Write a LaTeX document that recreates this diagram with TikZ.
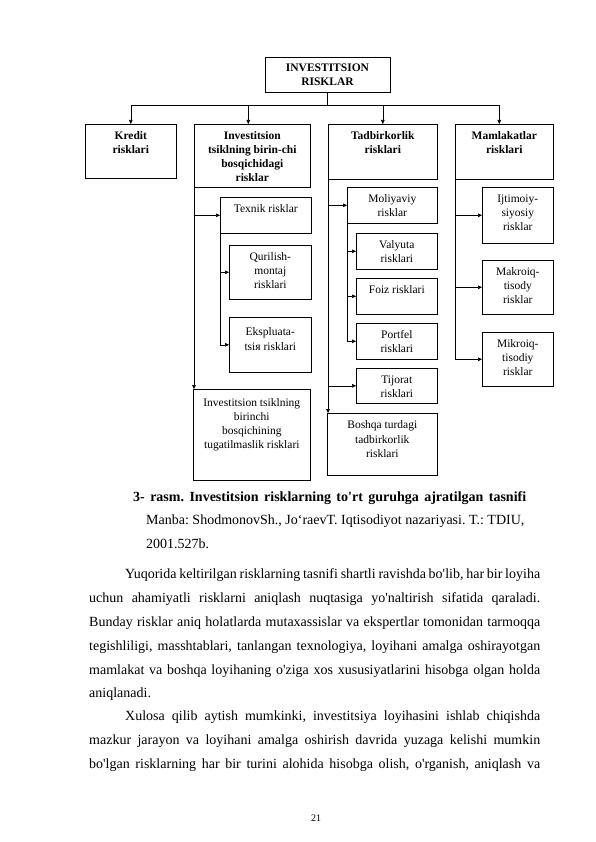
\documentclass[tikz,border=0pt]{standalone}
\usepackage{fontspec}
\setmainfont{Liberation Serif}
\usetikzlibrary{arrows.meta}

% top-aligned text inside a fixed box: width, height, text, first baseline
\newcommand{\cell}[4][15pt]{\parbox[c][#3][t]{#2}{\centering\rule{0pt}{#1}#4\par}}
\newcommand{\ap}{\textquotesingle}
\frenchspacing

\begin{document}
\begin{tikzpicture}[
  x=1pt,y=-1pt,
  box/.style={draw,line width=0.6pt,inner sep=0pt,anchor=north west,
              font=\fontsize{11.5}{14.2}\selectfont},
  head/.style={box,font=\fontsize{11.5}{14}\selectfont\bfseries},
  arr/.style={-{Triangle[length=4pt,width=3.6pt]},line width=0.6pt},
  txt/.style={inner sep=0pt,anchor=base west,font=\fontsize{14}{16}\selectfont}
]
\fill[white] (0,0) rectangle (596,842);
\useasboundingbox (0,0) rectangle (596,842);

% ---- root ----
\node[head,anchor=center,minimum width=125pt,minimum height=35pt,align=center]
  (top) at (327.5,74.5) {INVESTITSION\\RISKLAR};

% ---- four groups ----
\node[head] (kredit) at (85,124)  {\cell{91pt}{54pt}{Kredit\\risklari}};
\node[head] (inv1)   at (194,124) {\cell{116pt}{63pt}{Investitsion\\tsiklning birin-chi\\bosqichidagi\\risklar}};
\node[head] (tadb)   at (328,124) {\cell{109pt}{55pt}{Tadbirkorlik\\risklari}};
\node[head] (maml)   at (455,124) {\cell{98pt}{55pt}{Mamlakatlar\\risklari}};

\draw[line width=0.6pt] (top.south) -- ++(0,13) coordinate (bus);
\draw[arr] (bus) -| (kredit.north);
\draw[arr] (bus) -| ([xshift=-4pt]inv1.north);
\draw[arr] (bus) -| (tadb.north);
\draw[arr] (bus) -| ([xshift=-5pt]maml.north);

% ---- investment cycle ----
\node[box] (texnik)   at (220,197) {\cell{91pt}{36pt}{Texnik risklar}};
\node[box] (qurilish) at (229,245) {\cell{82pt}{54pt}{Qurilish-\\montaj\\risklari}};
\node[box] (ekspl)    at (229,317) {\cell[18.5pt]{82pt}{55pt}{Ekspluata-\\tsiя risklari}};
\node[box] (invend)   at (193,389) {\cell[17pt]{117pt}{91pt}{Investitsion tsiklning\\birinchi\\bosqichining\\tugatilmaslik risklari}};
\draw[arr] (inv1.south west) -- (inv1.south west |- invend.north);
\draw[arr] (inv1.south west |- texnik.west) -- (texnik.west);
\draw[arr] (texnik.south west) |- (ekspl.west);
\draw[arr] (texnik.south west |- qurilish.west) -- (qurilish.west);

% ---- business ----
\node[box] (moliya)  at (347,187) {\cell{90pt}{36pt}{Moliyaviy\\risklar}};
\node[box] (valyuta) at (356,233) {\cell{81pt}{36pt}{Valyuta\\risklari}};
\node[box] (foiz)    at (356,278) {\cell{81pt}{36pt}{Foiz risklari}};
\node[box] (portfel) at (356,323) {\cell{81pt}{36pt}{Portfel\\risklari}};
\node[box] (tijorat) at (356,368) {\cell{81pt}{35pt}{Tijorat\\risklari}};
\node[box] (boshqa)  at (327,413) {\cell[15.5pt]{110pt}{62pt}{Boshqa turdagi\\tadbirkorlik\\risklari}};
\draw[arr] (tadb.south west) -- (tadb.south west |- boshqa.north);
\draw[arr] (tadb.south west |- moliya.west) -- (moliya.west);
\draw[arr] (tadb.south west |- tijorat.west) -- (tijorat.west);
\draw[arr] (moliya.south west) |- (portfel.west);
\draw[arr] (moliya.south west |- valyuta.west) -- (valyuta.west);
\draw[arr] (moliya.south west |- foiz.west) -- (foiz.west);

% ---- country ----
\node[box] (ijtim) at (482,187) {\cell{71pt}{56pt}{Ijtimoiy-\\siyosiy\\risklar}};
\node[box] (makro) at (482,260) {\cell{71pt}{54pt}{Makroiq-\\tisody\\risklar}};
\node[box] (mikro) at (482,332) {\cell{71pt}{54pt}{Mikroiq-\\tisodiy\\risklar}};
\draw[arr] (maml.south west) |- (mikro.west);
\draw[arr] (maml.south west |- ijtim.west) -- (ijtim.west);
\draw[arr] (maml.south west |- makro.west) -- (makro.west);

% ---- caption and source ----
\node[txt,font=\fontsize{14}{16}\selectfont\bfseries] (capt) at (133,501)
  {\makebox[393pt][s]{3- rasm. Investitsion risklarning to\ap rt guruhga ajratilgan tasnifi}};
\node[txt] (src1) at (146,524) {Manba: ShodmonovSh., Jo‘raevT. Iqtisodiyot nazariyasi. T.: TDIU,};
\node[txt] (src2) at (146,548) {2001.527b.};

% ---- body text ----
\node[txt] (p1a) at (125,578) {\makebox[415pt][s]{Yuqorida keltirilgan risklarning tasnifi shartli ravishda bo\ap lib, har bir loyiha}};
\node[txt] (p1b) at (89,602)  {\makebox[451pt][s]{uchun ahamiyatli risklarni aniqlash nuqtasiga yo\ap naltirish sifatida qaraladi.}};
\node[txt] (p1c) at (89,626)  {\makebox[451pt][s]{Bunday risklar aniq holatlarda mutaxassislar va ekspertlar tomonidan tarmoqqa}};
\node[txt] (p1d) at (89,650)  {\makebox[451pt][s]{tegishliligi, masshtablari, tanlangan texnologiya, loyihani amalga oshirayotgan}};
\node[txt] (p1e) at (89,674)  {\makebox[451pt][s]{mamlakat va boshqa loyihaning o\ap ziga xos xususiyatlarini hisobga olgan holda}};
\node[txt] (p1f) at (89,697)  {aniqlanadi.};
\node[txt] (p2a) at (125,720) {\makebox[415pt][s]{Xulosa qilib aytish mumkinki, investitsiya loyihasini ishlab chiqishda}};
\node[txt] (p2b) at (89,744)  {\makebox[451pt][s]{mazkur jarayon va loyihani amalga oshirish davrida yuzaga kelishi mumkin}};
\node[txt] (p2c) at (89,768)  {\makebox[451pt][s]{bo\ap lgan risklarning har bir turini alohida hisobga olish, o\ap rganish, aniqlash va}};

% ---- page number ----
\node[inner sep=0pt,font=\fontsize{10}{12}\selectfont] (pgno) at (316,818) {21};
\end{tikzpicture}
\end{document}
